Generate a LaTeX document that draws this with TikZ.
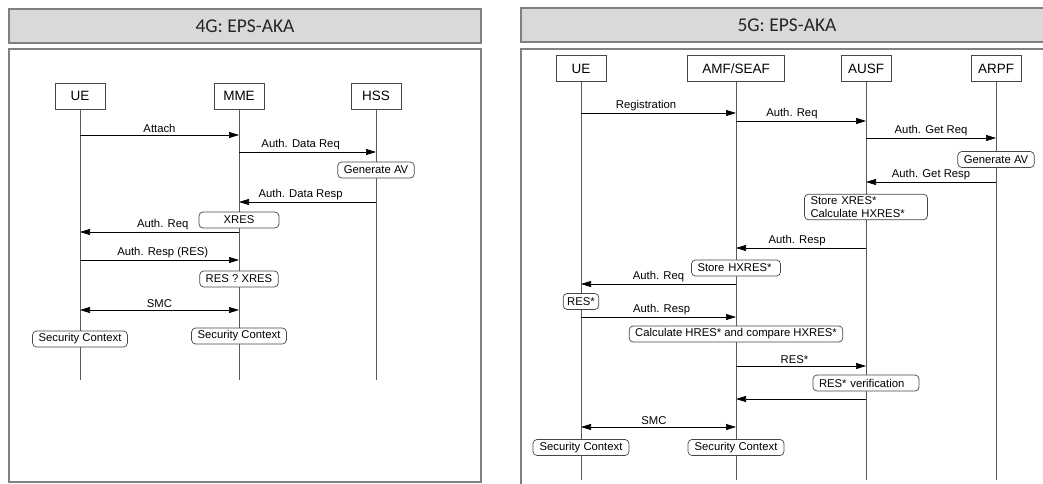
\documentclass[tikz,border=0pt]{standalone}
\usepackage{fontspec}
\setmainfont{Liberation Sans}
\newfontfamily\headfont{Carlito}
\usepackage{xcolor}
\usepackage{tikz}
\usetikzlibrary{arrows.meta,positioning,calc}
\definecolor{framegray}{RGB}{128,128,128}
\definecolor{headfill}{RGB}{217,217,217}
\definecolor{lifegray}{RGB}{90,90,90}
\definecolor{notegray}{RGB}{70,70,70}

\begin{document}
\begin{tikzpicture}[
  x=1pt, y=-1pt,
  header/.style={
    draw=framegray, fill=headfill, line width=1.6pt
  },
  headtext/.style={font=\headfont\fontsize{19.5}{22}\selectfont, text=black!85},
  panel/.style={draw=framegray, line width=1.2pt},
  lifebox/.style={
    draw=notegray, fill=white, line width=0.8pt,
    minimum width=50pt, minimum height=26pt, inner sep=2pt,
    font=\fontsize{13.5}{15}\selectfont
  },
  note/.style={
    draw=notegray, fill=white, rounded corners=4pt, line width=0.7pt,
    minimum height=16pt, inner xsep=6pt, inner ysep=2pt,
    font=\fontsize{11.3}{13.5}\selectfont
  },
  life/.style={draw=lifegray, line width=0.8pt},
  msg/.style={-{Triangle[length=10pt,width=6pt]}, line width=0.7pt},
  both/.style={{Triangle[length=10pt,width=6pt]}-{Triangle[length=10pt,width=6pt]}, line width=0.7pt},
  lbl/.style={above, inner sep=2pt, font=\fontsize{11.3}{13}\selectfont}
]
\clip (0,0) rectangle (1043,484);

% ---- 4G panel
\draw[header] (9,9) rectangle (481,43);
\node[headtext] at (245,26) (h4g) {4G: EPS-AKA};
\draw[panel] (9,49) rectangle (481,482);

\node[lifebox] (ue) at (80,96) {UE};
\node[lifebox] (mme) at (239,96) {MME};
\node[lifebox] (hss) at (376,96) {HSS};
\draw[life] (ue) -- (ue |- 0,380);
\draw[life] (mme) -- (mme |- 0,380);
\draw[life] (hss) -- (hss |- 0,380);

\draw[msg] (ue |- 0,135) -- node[lbl] {Attach} (mme |- 0,135);
\draw[msg] (mme |- 0,152) -- node[lbl, pos=0.45] {Auth. Data Req} (hss |- 0,152);
\node[note] (genav) at (hss |- 0,170) {Generate AV};
\draw[msg] (hss |- 0,202) -- node[lbl, pos=0.55] {Auth. Data Resp} (mme |- 0,202);
\node[note, minimum width=80pt] (xres) at (mme |- 0,220) {XRES};
\draw[msg] (mme |- 0,232) -- node[lbl, pos=0.48] {Auth. Req} (ue |- 0,232);
\draw[msg] (ue |- 0,260) -- node[lbl, pos=0.52] {Auth. Resp (RES)} (mme |- 0,260);
\node[note] (cmp4) at (mme |- 0,279) {RES ? XRES};
\draw[both] (ue |- 0,310) -- node[lbl] {SMC} (mme |- 0,310);
\node[note] (sc4ue) at (ue |- 0,339) {Security Context};
\node[note] (sc4mme) at (mme |- 0,336) {Security Context};

% ---- 5G panel
\draw[header] (521,8) rectangle (1053,42);
\node[headtext] at (787,25) (h5g) {5G: EPS-AKA};
\draw[panel] (521,49) rectangle (1053,500);

\node[lifebox] (ue5) at (581,68.5) {UE};
\node[lifebox, minimum width=97pt] (amf) at (736,68.5) {AMF/SEAF};
\node[lifebox] (ausf) at (866,68.5) {AUSF};
\node[lifebox] (arpf) at (996,68.5) {ARPF};
\draw[life] (ue5) -- (ue5 |- 0,480);
\draw[life] (amf) -- (amf |- 0,480);
\draw[life] (ausf) -- (ausf |- 0,480);
\draw[life] (arpf) -- (arpf |- 0,480);

\draw[msg] (ue5 |- 0,113) -- node[lbl, pos=0.42] {Registration} (amf |- 0,113);
\draw[msg] (amf |- 0,121) -- node[lbl, pos=0.43] {Auth. Req} (ausf |- 0,121);
\draw[msg] (ausf |- 0,138) -- node[lbl] {Auth. Get Req} (arpf |- 0,138);
\node[note] (genav5) at (arpf |- 0,159.5) {Generate AV};
\draw[msg] (arpf |- 0,182) -- node[lbl] {Auth. Get Resp} (ausf |- 0,182);
\node[note, text width=111pt, align=left] (storex) at (ausf |- 0,207) {Store XRES*\\Calculate HXRES*};
\draw[msg] (ausf |- 0,248) -- node[lbl, pos=0.53] {Auth. Resp} (amf |- 0,248);
\node[note, text width=77pt, align=left] (storehx) at (amf |- 0,268) {Store HXRES*};
\draw[msg] (amf |- 0,284) -- node[lbl, pos=0.5] {Auth. Req} (ue5 |- 0,284);
\node[note, inner xsep=4pt] (res5) at (ue5 |- 0,301.5) {RES*};
\draw[msg] (ue5 |- 0,317) -- node[lbl, pos=0.52] {Auth. Resp} (amf |- 0,317);
\node[note] (calc) at (amf |- 0,334) {Calculate HRES* and compare HXRES*};
\draw[msg] (amf |- 0,366) -- node[lbl, pos=0.45] {RES*} (ausf |- 0,366);
\node[note, text width=94pt, align=left] (verif) at (ausf |- 0,383) {RES* verification};
\draw[msg] (ausf |- 0,399) -- (amf |- 0,399);
\draw[both] (ue5 |- 0,427) -- node[lbl, pos=0.47] {SMC} (amf |- 0,427);
\node[note, minimum width=96pt] (sc5ue) at (ue5 |- 0,447.5) {Security Context};
\node[note, minimum width=96pt] (sc5amf) at (amf |- 0,447.5) {Security Context};
\end{tikzpicture}
\end{document}
